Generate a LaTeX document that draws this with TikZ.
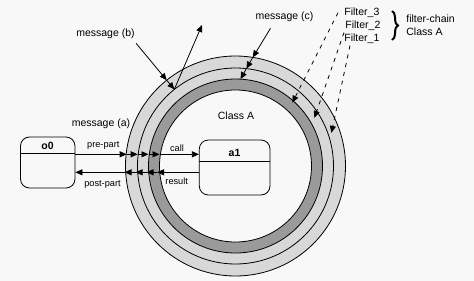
\documentclass[tikz,border=0pt]{standalone}
\usepackage{fontspec}
\setmainfont{Liberation Sans}
\usetikzlibrary{arrows.meta, calc, positioning, decorations.pathreplacing}
\definecolor{hinter}{HTML}{F8F8F8}
\definecolor{hell}{HTML}{D8D8D8}
\definecolor{dunkel}{HTML}{9A9A9A}

\begin{document}
\begin{tikzpicture}[x=1pt, y=-1pt, line width=0.8pt,
        obj/.style={draw, rounded corners=9pt, fill=hinter, inner sep=0pt},
        lbl/.style={font=\fontsize{10.5}{13.4}\selectfont, inner sep=1pt},
        klein/.style={font=\fontsize{9.2}{11}\selectfont, inner sep=1pt},
        fett/.style={font=\fontsize{10.5}{12}\selectfont\bfseries, inner sep=1pt},
        arr/.style={-{Triangle[length=7pt,width=6pt]}},
        darr/.style={arr, dash pattern=on 4pt off 5pt},
        ring/.style={draw, line width=0.8pt}
      ]
      \useasboundingbox[fill=hinter] (0,0) rectangle (474,281);
      \coordinate (m) at (235.5,166);
      \filldraw[ring, fill=hell]   (m) circle (110);
      \filldraw[ring, fill=hell]   (m) circle (98);
      \filldraw[ring, fill=dunkel] (m) circle (87);
      \filldraw[ring, fill=hinter] (m) circle (76);
      \node[lbl] (ka) at (236,116) {Class A};

      \node[obj, minimum width=54.5pt, minimum height=51pt] (o0) at (47.75,162.5) {};
      \draw ($(o0.north west)+(0,17)$) -- ($(o0.north east)+(0,17)$);
      \node[fett] (o0t) at (47.5,145.5) {o0};
      \node[obj, minimum width=70.7pt, minimum height=55pt] (a1) at (234.65,167.5) {};
      \draw ($(a1.north west)+(0,21.7)$) -- ($(a1.north east)+(0,21.7)$);
      \node[fett] (a1t) at (234.5,152.5) {a1};

      \coordinate (v1) at (126.7,154.3);
      \coordinate (v2) at (137.7,154.3);
      \coordinate (v3) at (148.5,154.3);
      \coordinate (v4) at (159.5,154.3);
      \draw[arr] (o0.east |- v1) -- (v1);
      \draw[arr] (v1) -- (v2);
      \draw[arr] (v2) -- (v3);
      \draw[arr] (v3) -- (v4);
      \draw[arr] (v4) -- (a1.west |- v4);
      \coordinate (w1) at (124.5,172.3);
      \coordinate (w2) at (135.5,172.3);
      \coordinate (w3) at (146.5,172.3);
      \coordinate (w4) at (157,172.3);
      \draw[arr] (a1.west |- w4) -- (w4);
      \draw[arr] (w4) -- (w3);
      \draw[arr] (w3) -- (w2);
      \draw[arr] (w2) -- (w1);
      \draw[arr] (w1) -- (o0.east |- w1);
      \node[klein] (pre) at (103.3,145.5) {pre-part};
      \node[klein] (call) at (177,148) {call};
      \node[klein] (post) at (102.5,184) {post-part};
      \node[klein] (res) at (176.7,181) {result};
      \node[lbl] (ma) at (101,124) {message (a)};

      \node[lbl] (mb) at (105.5,34) {message (b)};
      \coordinate (b1) at (166.7,80.2);
      \coordinate (b2) at (174.3,89.4);
      \coordinate (bout) at (202,25);
      \draw[arr] ([yshift=-3pt]mb.south east) -- (b1);
      \draw[arr] (b1) -- (b2);
      \draw[arr] (b2) -- (bout);

      \node[lbl] (mc) at (284.5,17) {message (c)};
      \coordinate (c1) at (252.8,57.4);
      \coordinate (c2) at (246.4,68.6);
      \coordinate (c3) at (240.5,79.1);
      \draw[arr] ([xshift=-14pt, yshift=-5pt]mc.south) -- (c1);
      \draw[arr] (c1) -- (c2);
      \draw[arr] (c2) -- (c3);

      \node[lbl, anchor=west] (f3) at (343,12.7) {Filter\_3};
      \node[lbl, anchor=west] (f2) at (344,25.3) {Filter\_2};
      \node[lbl, anchor=west] (f1) at (343,38.3) {Filter\_1};
      \coordinate (t3) at (292.3,102.7);
      \coordinate (t2) at (314.4,117.9);
      \coordinate (t1) at (331.4,132.9);
      \draw[darr] ([xshift=-5pt]f3.west) -- (t3);
      \draw[darr] ([yshift=-1pt]f2.south west) -- (t2);
      \draw[darr] ([xshift=7pt, yshift=-1pt]f1.south west) -- (t1);
      \draw[decorate, decoration={brace, amplitude=6pt}, line width=2pt]
        (392,11) -- (392,40);
      \node[lbl, anchor=west, align=left] (fk) at (405,25) {filter-chain\\Class A};
    \end{tikzpicture}
\end{document}
